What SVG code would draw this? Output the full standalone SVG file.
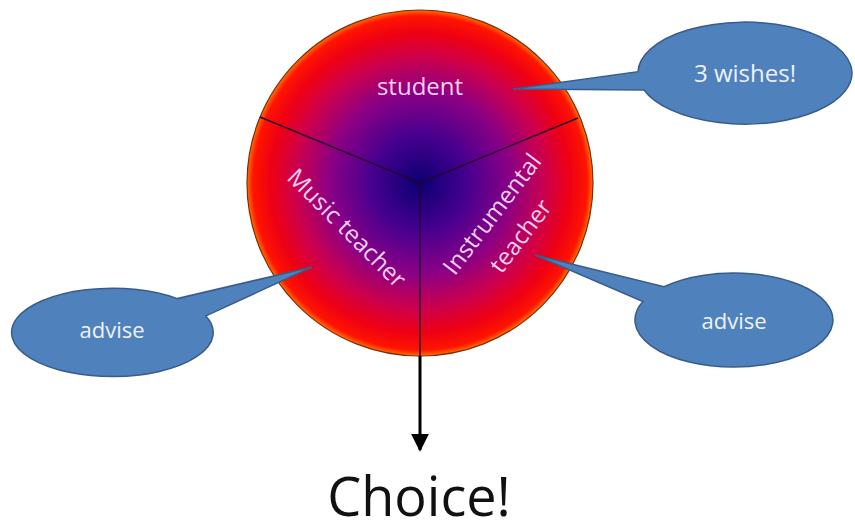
<svg xmlns="http://www.w3.org/2000/svg" width="855" height="525" viewBox="0 0 855 525">
<defs>
<radialGradient id="fire" cx="420" cy="183" r="174" gradientUnits="userSpaceOnUse">
<stop offset="0" stop-color="#0a0072"/>
<stop offset="0.28" stop-color="#48008f"/>
<stop offset="0.52" stop-color="#8a0085"/>
<stop offset="0.72" stop-color="#cc004c"/>
<stop offset="0.86" stop-color="#ee0014"/>
<stop offset="0.96" stop-color="#ff1400"/>
<stop offset="1" stop-color="#ff8000"/>
</radialGradient>
<marker id="arrow" viewBox="0 0 10 10" refX="9" refY="5" markerWidth="6" markerHeight="6" orient="auto" markerUnits="strokeWidth">
<path d="M0,0 L10,5 L0,10 Z" fill="#000"/>
</marker>
<style>
.callout{fill:#4f81bd;stroke:#385d8a;stroke-width:1.5}
.ctext{font-family:"Open Sans","Liberation Sans",sans-serif;fill:#eef2f8;text-anchor:middle}
.stext{font-family:"Open Sans","Liberation Sans",sans-serif;fill:#f6d0f2;text-anchor:middle;font-size:24px}
.divider{stroke:#2a0030;stroke-width:1.5;fill:none}
</style>
</defs>
<g id="circle">
<circle cx="420" cy="183" r="173" fill="url(#fire)" stroke="#7a2a10" stroke-width="1.2"/>
<path class="divider" d="M420,183 L260,117 M420,183 L578,118 M420,183 L420,356"/>
<text class="stext" x="420" y="95">student</text>
<text class="stext" transform="translate(341,234) rotate(45)">Music teacher</text>
<g transform="translate(513,230) rotate(-52.6)">
<text class="stext" x="0" y="-18">Instrumental</text>
<text class="stext" x="0" y="18">teacher</text>
</g>
</g>
<g id="wishes">
<path class="callout" d="M638,71.7 A107 51 0 1 1 644,90 L513,89 Z"/>
<text class="ctext" x="745" y="82" font-size="24">3 wishes!</text>
</g>
<g id="advise-left">
<path class="callout" d="M205.9,315.9 A100.8 44.2 0 1 1 177.3,298.6 L312,267 Z"/>
<text class="ctext" x="112" y="338" font-size="22">advise</text>
</g>
<g id="advise-right">
<path class="callout" d="M664,286.8 A99 47 0 1 1 642.9,301.6 L535,255 Z"/>
<text class="ctext" x="734" y="329" font-size="22">advise</text>
</g>
<g id="connectors">
<line x1="420" y1="356" x2="420" y2="450" stroke="#000" stroke-width="3" marker-end="url(#arrow)"/>
</g>
<g id="choice">
<text x="419" y="516" font-family="'Open Sans','Liberation Sans',sans-serif" font-size="54" fill="#111" text-anchor="middle">Choice!</text>
</g>
</svg>
